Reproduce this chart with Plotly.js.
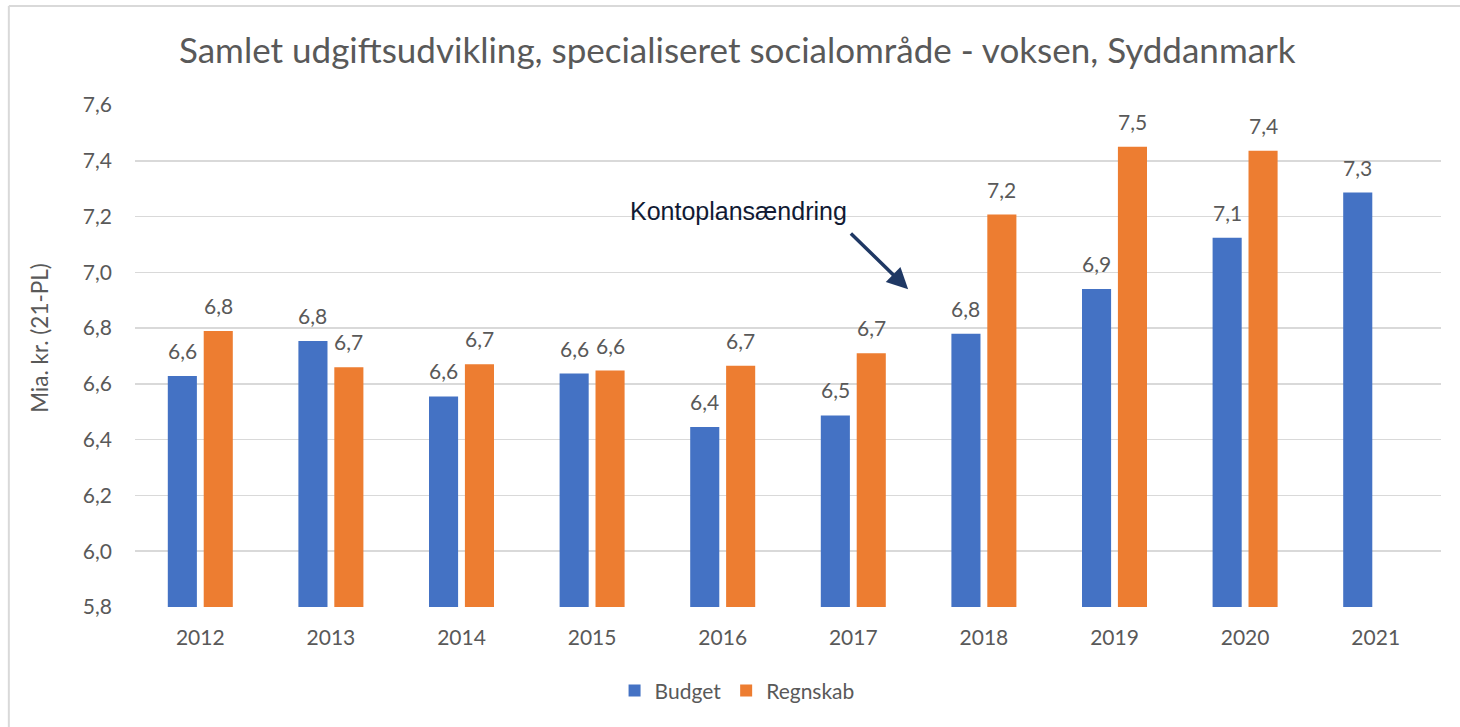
<!DOCTYPE html>
<html>
<head>
<meta charset="utf-8">
<script src="https://cdn.plot.ly/plotly-3.0.1.min.js"></script>
<style>html,body{margin:0;padding:0;background:#fff;}#chart{width:1460px;height:727px;}</style>
</head>
<body>
<div id="chart"></div>
<script>
const years = ['2012','2013','2014','2015','2016','2017','2018','2019','2020','2021'];
const budget = [6.628, 6.754, 6.555, 6.637, 6.445, 6.487, 6.78, 6.94, 7.124, 7.286];
const regnskab = [6.79, 6.66, 6.67, 6.648, 6.665, 6.71, 7.207, 7.45, 7.436, null];
const tickVals = [5.8, 6.0, 6.2, 6.4, 6.6, 6.8, 7.0, 7.2, 7.4, 7.6];

const font = 'Lato, Calibri, sans-serif';
const grey = '#595959';

const traces = [
  {type:'bar', name:'Budget', x:years, y:budget, marker:{color:'#4472c4'}, hoverinfo:'y'},
  {type:'bar', name:'Regnskab', x:years, y:regnskab, marker:{color:'#ed7d31'}, hoverinfo:'y'}
];

function fmt(v){ return v.toFixed(1).replace('.', ','); }
const labelAnns = [];
[[budget,-18],[regnskab,18]].forEach(([arr,dx])=>{
  years.forEach((yr,i)=>{
    if(arr[i]==null) return;
    // x given as category index on the category axis
    labelAnns.push({xref:'x', yref:'y', x:i, y:arr[i], text:fmt(arr[i]), showarrow:false,
      xshift:dx, yshift:11, yanchor:'bottom', xanchor:'center',
      font:{family:font,size:21,color:grey}});
  });
});

const layout = {
  width:1460, height:727,
  separators:',.',
  margin:{l:135, r:19, t:105, b:120},
  paper_bgcolor:'#ffffff', plot_bgcolor:'#ffffff',
  title:{text:'Samlet udgiftsudvikling, specialiseret socialområde - voksen, Syddanmark',
         font:{family:font,size:35,color:grey}, x:0.505, xanchor:'center', y:0.93, yanchor:'middle'},
  barmode:'group', bargap:0.45, bargroupgap:0.19,
  xaxis:{type:'category', categoryorder:'array', categoryarray:years, range:[-0.5, years.length-0.5],
         autorange:false, tickfont:{family:font,size:21,color:grey}, showgrid:false,
         showline:false, ticks:'', ticklen:0, ticklabelstandoff:16},
  yaxis:{range:[5.8,7.6], autorange:false, tickvals:tickVals, tickformat:'.1f',
         tickfont:{family:font,size:21,color:grey}, gridcolor:'#d9d9d9', gridwidth:1.5,
         zeroline:false, showline:false, ticks:'', ticklabelstandoff:22},
  legend:{orientation:'h', x:0.461, xanchor:'center', y:-0.167, yanchor:'middle',
          font:{family:font,size:21,color:grey}, itemwidth:30, traceorder:'normal'},
  showlegend:true,
  annotations:labelAnns.concat([
    {xref:'paper', yref:'paper', x:-0.0728, y:0.536, text:'Mia. kr. (21-PL)', textangle:-90, showarrow:false,
     font:{family:font,size:22.5,color:grey}, xanchor:'center', yanchor:'middle'},
    {xref:'paper', yref:'paper', x:0.462, y:0.789, text:'Kontoplansændring', showarrow:false,
     font:{family:'Liberation Sans, Arial, sans-serif', size:25, color:'#111a33'}, xanchor:'center', yanchor:'middle'},
    {xref:'paper', yref:'paper', x:0.592, y:0.633, ax:0.547, ay:0.747, axref:'paper', ayref:'paper',
     text:'', showarrow:true, arrowhead:2, arrowsize:1.2, arrowwidth:3.5, arrowcolor:'#1f3864'}
  ]),
  shapes:[
    {type:'line', xref:'paper', yref:'paper', x0:-0.0966, x1:-0.0966, y0:-0.25, y1:1.197,
     line:{color:'#d9d9d9', width:2}},
    {type:'line', xref:'paper', yref:'paper', x0:-0.0966, x1:1.02, y0:1.197, y1:1.197,
     line:{color:'#d9d9d9', width:2}}
  ]
};

Plotly.newPlot('chart', traces, layout, {displayModeBar:false, staticPlot:true});
</script>
</body>
</html>
